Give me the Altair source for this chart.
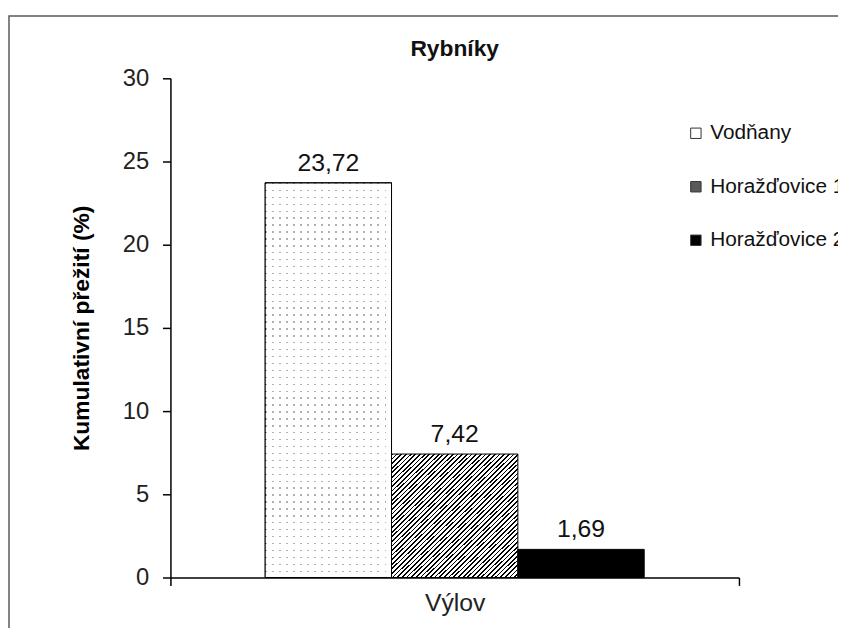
import altair as alt
import pandas as pd

# ---- data ----
categories = ["Výlov", "Výlov", "Výlov"]
series = ["Vodňany", "Horažďovice 1", "Horažďovice 2"]
values = [23.72, 7.42, 1.69]
labels = ["23,72", "7,42", "1,69"]
y_ticks = [0, 5, 10, 15, 20, 25, 30]
chart_title = "Rybníky"

df = pd.DataFrame({"cat": categories, "series": series, "value": values, "label": labels})

FONT = "Liberation Sans"

# ---- pattern-like fills built from gradients (styling only) ----
def stripes(n, frac, c_on, c_off, x2, y2):
    stops = []
    for i in range(n):
        a = round(i / n, 5)
        b = round((i + frac) / n, 5)
        c = round((i + 1) / n, 5)
        stops += [
            {"offset": a, "color": c_on},
            {"offset": b, "color": c_on},
            {"offset": b, "color": c_off},
            {"offset": c, "color": c_off},
        ]
    return {"gradient": "linear", "x1": 0, "y1": 0, "x2": x2, "y2": y2, "stops": stops}

hatch = stripes(54, 0.38, "#000000", "#ffffff", 1, 1)
dot_cols = stripes(18, 0.2, "#b0b0b0", "#ffffff", 1, 0)
dot_rows = stripes(57, 0.2, "rgba(255,255,255,0)", "#ffffff", 0, 1)

x_enc = alt.X("cat:N", title=None,
              scale=alt.Scale(paddingInner=0, paddingOuter=0),
              axis=alt.Axis(tickBand="extent", tickSize=8, labelPadding=5, labelFontSize=25,
                            labelAngle=0, domainColor="black", tickColor="black",
                            domainWidth=1.5, tickWidth=1.5, labelColor="#222"))
xo_enc = alt.XOffset("series:N", sort=series,
                     scale=alt.Scale(domain=series, paddingInner=0, paddingOuter=0.75))
y_enc = alt.Y("value:Q", title="Kumulativní přežití (%)",
              scale=alt.Scale(domain=[0, 30], nice=False),
              axis=alt.Axis(values=y_ticks, grid=False, tickSize=8, labelPadding=14,
                            labelFontSize=24, titleFontSize=23, titleFontWeight="bold",
                            titlePadding=29, domainColor="black", tickColor="black",
                            domainWidth=1.5, tickWidth=1.5, labelColor="#222",
                            titleColor="#000"))

base = alt.Chart(df)

bars = base.mark_bar(stroke="black", strokeWidth=1).encode(
    x=x_enc,
    xOffset=xo_enc,
    y=y_enc,
    fill=alt.Fill(
        "series:N",
        sort=series,
        scale=alt.Scale(domain=series, range=["#ffffff", "#5a5a5a", "#000000"]),
        legend=alt.Legend(title=None, orient="none", legendX=520, legendY=45,
                          symbolType="square", symbolSize=110, symbolStrokeColor="#333",
                          symbolStrokeWidth=1, labelFontSize=21, labelFont=FONT,
                          rowPadding=32, labelOffset=4, padding=0, labelColor="#111"),
        condition=[
            {"test": "datum.series === 'Vodňany'", "value": dot_cols},
            {"test": "datum.series === 'Horažďovice 1'", "value": hatch},
        ],
    ),
)

dots_overlay = base.transform_filter(alt.datum.series == "Vodňany").mark_bar(
    fill=dot_rows, stroke="black", strokeWidth=1
).encode(x=x_enc, xOffset=xo_enc, y=y_enc)

text = base.mark_text(baseline="alphabetic", dy=-12, fontSize=25, font=FONT, color="#111").encode(
    x=x_enc, xOffset=xo_enc, y=y_enc, text="label:N"
)

title_df = pd.DataFrame({"t": [chart_title]})
title_mark = alt.Chart(title_df).mark_text(
    baseline="alphabetic", align="center", fontSize=23, fontWeight="bold", font=FONT, color="#111"
).encode(x=alt.value(287), y=alt.value(-23), text="t:N")

border = alt.Chart(pd.DataFrame({"a": [0]})).mark_rect(
    filled=False, stroke="#595959", strokeWidth=1.5
).encode(x=alt.value(-163), x2=alt.value(900), y=alt.value(-63), y2=alt.value(900))

chart = alt.layer(border, bars, dots_overlay, text, title_mark).properties(
    width=574,
    height=504,
    autosize=alt.AutoSizeParams(type="none"),
    padding={"left": 164, "top": 68, "right": 100, "bottom": 48},
).configure(font=FONT).configure_view(stroke=None).configure_axis(
    labelFont=FONT, titleFont=FONT
)

chart.save("out.html", embed_options={"renderer": "svg", "actions": False})
